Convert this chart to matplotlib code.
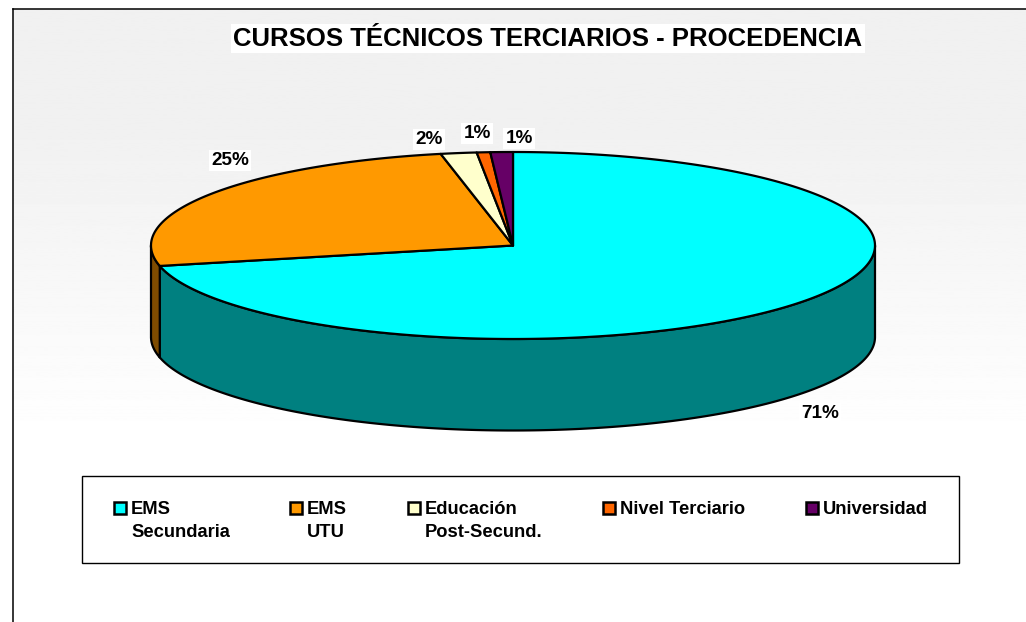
import matplotlib
matplotlib.use('Agg')

import matplotlib.pyplot as plt
import numpy as np
from matplotlib.patches import Rectangle

plt.rcParams['font.family'] = ['Liberation Sans', 'DejaVu Sans']

title = 'CURSOS TÉCNICOS TERCIARIOS - PROCEDENCIA'
categories = ['EMS\nSecundaria', 'EMS\nUTU', 'Educación\nPost-Secund.', 'Nivel Terciario', 'Universidad']
values = [71.49, 25.31, 1.6, 0.6, 1.0]

top_colors = ['#00FFFF', '#FF9900', '#FFFFCC', '#FF6600', '#660066']
side_colors = ['#008080', '#7F4C00', '#7F7F66', '#7F3300', '#330033']

# layout in pixels of the 1026x622 picture
cx, cy, rx, ry, depth = 513, 245.5, 362, 93.5, 91.5
label_pos = [(820, 413.5), (230, 160.5), (429, 139.5), (477, 133.5), (519, 138.5)]
legend_x = [114, 290, 408, 603, 806]


def rim(t):
    # t in degrees, clockwise from the top of the ellipse
    t = np.radians(t)
    return cx + rx * np.sin(t), cy - ry * np.cos(t)


fig = plt.figure(figsize=(10.26, 6.22), dpi=100, facecolor='white')
ax = fig.add_axes([0, 0, 1, 1])

# background fades from light grey to white
grad = np.interp(np.linspace(0, 622, 622), [9, 130, 440], [0.945, 0.945, 1.0]).reshape(-1, 1)
ax.imshow(grad, cmap='gray', vmin=0, vmax=1, extent=[13, 1026, 622, 9], aspect='auto', zorder=0)
ax.set_xlim(0, 1026)
ax.set_ylim(622, 0)
ax.axis('off')
ax.plot([13, 13], [622, 9], color='black', lw=1.1, zorder=1)
ax.plot([13, 1026], [9, 9], color='black', lw=1.1, zorder=1)

ax.text(548, 38.5, title, fontsize=18.55, fontweight='bold', ha='center', va='center',
        bbox=dict(facecolor='white', edgecolor='none', pad=1.5), zorder=2)

edges = np.concatenate([[0], np.cumsum(values) / np.sum(values) * 360])

# side wall, only the front half of the rim shows (90..270 degrees)
for i in range(len(values)):
    a, b = max(edges[i], 90), min(edges[i + 1], 270)
    if a >= b:
        continue
    x, y = rim(np.linspace(a, b, 200))
    xs = np.concatenate([x, x[::-1]])
    ys = np.concatenate([y, y[::-1] + depth])
    ax.fill(xs, ys, facecolor=side_colors[i], edgecolor='black', lw=1.6, joinstyle='round', zorder=3)

# top face
for i in range(len(values)):
    x, y = rim(np.linspace(edges[i], edges[i + 1], 300))
    ax.fill(np.concatenate([[cx], x]), np.concatenate([[cy], y]), facecolor=top_colors[i],
            edgecolor='black', lw=1.6, joinstyle='round', zorder=4)

for v, (lx, ly) in zip(values, label_pos):
    ax.text(lx, ly, f'{v:.0f}%', fontsize=13.6, fontweight='bold', ha='center', va='center',
            bbox=dict(facecolor='white', edgecolor='none', pad=1.5), zorder=5)

# legend box
ax.add_patch(Rectangle((82, 476), 877, 87, facecolor='white', edgecolor='black', lw=1.0, zorder=2))
for name, color, lx in zip(categories, top_colors, legend_x):
    ax.add_patch(Rectangle((lx, 502), 12, 12, facecolor=color, edgecolor='black', lw=1.8, zorder=3))
    ax.text(lx + 17, 501.5, name, fontsize=13.2, fontweight='bold', ha='left', va='top',
            linespacing=1.41, zorder=3)

plt.savefig('out.png', facecolor=fig.get_facecolor())
plt.close()
